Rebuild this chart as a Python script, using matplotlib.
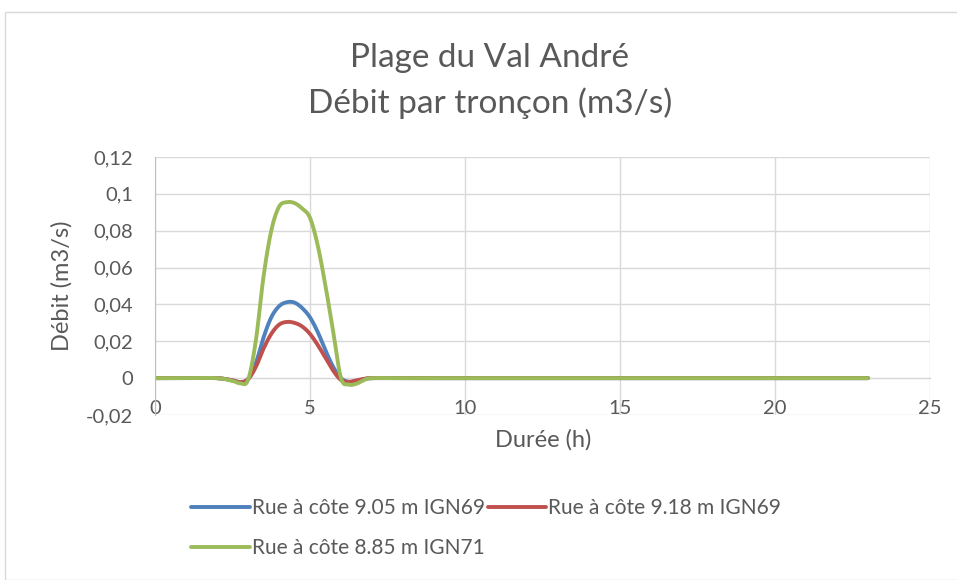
import numpy as np
import matplotlib.pyplot as plt
from matplotlib.patches import Rectangle

hours = [0, 1, 2, 2.5, 2.75, 3.0, 3.25, 3.5, 3.75, 4.0, 4.25, 4.5, 4.75, 5.0,
         5.25, 5.5, 5.75, 6.0, 6.25, 6.5, 6.75, 7.0,
         8, 9, 10, 11, 12, 13, 14, 15, 16, 17, 18, 19, 20, 21, 22, 23]
pad = [0] * 16
blue = [0, 0, 0, -0.0012, -0.0022, -0.0005, 0.008, 0.022, 0.033, 0.039, 0.0412,
        0.041, 0.038, 0.033, 0.025, 0.015, 0.006, 0.0, -0.002, -0.0015, -0.0005, 0] + pad
red = [0, 0, 0, -0.0012, -0.0022, -0.0006, 0.006, 0.016, 0.024, 0.029, 0.0305,
       0.030, 0.028, 0.024, 0.018, 0.011, 0.004, -0.001, -0.002, -0.0012, -0.0004, 0] + pad
green = [0, 0, 0, -0.0015, -0.0028, -0.001, 0.02, 0.055, 0.080, 0.093, 0.0955,
         0.095, 0.092, 0.087, 0.072, 0.050, 0.025, 0.0, -0.0035, -0.003, -0.001, 0] + pad
labels = ["Rue à côte 9.05 m IGN69", "Rue à côte 9.18 m IGN69", "Rue à côte 8.85 m IGN71"]
colors = ["#4F81BD", "#C0504D", "#9BBB59"]
yticks = [-0.02, 0, 0.02, 0.04, 0.06, 0.08, 0.1, 0.12]
ytick_labels = ["-0,02", "0", "0,02", "0,04", "0,06", "0,08", "0,1", "0,12"]
xticks = [0, 5, 10, 15, 20, 25]


def smooth(x, y, n=12):
    # catmull-rom, like excel's "smoothed line"
    x = np.asarray(x, float)
    y = np.asarray(y, float)
    px = np.concatenate([[x[0]], x, [x[-1]]])
    py = np.concatenate([[y[0]], y, [y[-1]]])
    xs, ys = [], []
    t = np.linspace(0, 1, n, endpoint=False)
    for i in range(1, len(px) - 2):
        for p, out in ((px, xs), (py, ys)):
            p0, p1, p2, p3 = p[i - 1], p[i], p[i + 1], p[i + 2]
            out.extend(0.5 * (2 * p1 + (-p0 + p2) * t + (2 * p0 - 5 * p1 + 4 * p2 - p3) * t ** 2
                              + (-p0 + 3 * p1 - 3 * p2 + p3) * t ** 3))
    xs.append(x[-1])
    ys.append(y[-1])
    return xs, ys


plt.rcParams['font.family'] = ['Lato', 'DejaVu Sans']
txt = "#595959"

fig = plt.figure(figsize=(9.57, 5.8), dpi=100)
fig.patches.append(Rectangle((5 / 957, 0), 1, 1 - 12 / 580, transform=fig.transFigure,
                             fill=False, edgecolor="#D9D9D9", linewidth=1))
ax = fig.add_axes([155 / 957, 1 - 415 / 580, 775 / 957, 258 / 580])

handles = []
for ys, lab, c in zip([blue, red, green], labels, colors):
    sx, sy = smooth(hours, ys)
    h, = ax.plot(sx, sy, color=c, linewidth=2.8, label=lab, solid_capstyle='round')
    handles.append(h)

ax.set_xlim(0, 25)
ax.set_ylim(-0.02, 0.12)
ax.set_yticks(yticks)
ax.set_yticklabels(ytick_labels)
ax.set_xticks(xticks)
ax.grid(True, color="#D9D9D9", linewidth=1)
ax.set_axisbelow(True)
for s in ['top', 'right']:
    ax.spines[s].set_visible(False)
ax.spines['bottom'].set_position(('data', 0))
ax.spines['bottom'].set_color("#BFBFBF")
ax.spines['left'].set_color("#BFBFBF")
ax.spines['bottom'].set_zorder(0.5)
ax.tick_params(axis='both', length=0, labelsize=14.5, colors=txt)
ax.tick_params(axis='x', pad=16)
ax.tick_params(axis='y', pad=16)

fig.text(490 / 957, 1 - 58 / 580, "Plage du Val André", ha='center', va='center',
         fontsize=24, color=txt)
fig.text(490 / 957, 1 - 103 / 580, "Débit par tronçon (m3/s)", ha='center', va='center',
         fontsize=24, color=txt)
fig.text(62 / 957, 1 - 286 / 580, "Débit (m3/s)", rotation=90, ha='center', va='center',
         fontsize=17, color=txt)
fig.text(543 / 957, 1 - 440 / 580, "Durée (h)", ha='center', va='center',
         fontsize=17, color=txt)

# excel fills the legend row by row
order = [handles[0], handles[2], handles[1]]
leg = fig.legend(handles=order, loc='upper left', bbox_to_anchor=(183 / 957, 1 - 490 / 580),
                 ncol=2, frameon=False, fontsize=15, handlelength=2.8, handletextpad=0.1,
                 columnspacing=0.15, labelspacing=0.95, borderaxespad=0)
for t in leg.get_texts():
    t.set_color(txt)

fig.savefig("out.png", dpi=100)
